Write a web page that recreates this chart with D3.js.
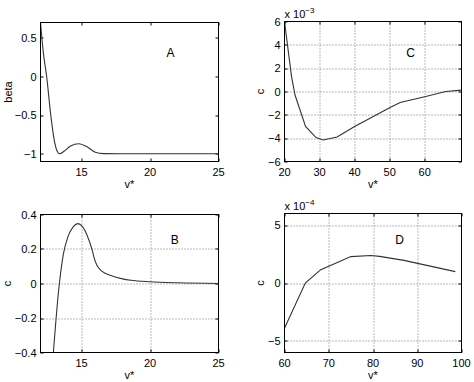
<!DOCTYPE html>
<html>
<head>
<meta charset="utf-8">
<script src="https://cdn.jsdelivr.net/npm/d3@7"></script>
<style>
  body { margin: 0; background: #fff; }
  text { font-family: "Liberation Sans", Arial, sans-serif; fill: #000; }
</style>
</head>
<body>
<div id="chart"></div>
<script>
// Panel A: beta vs v*
var aX = [12.0, 12.2, 12.45, 12.75, 13.0, 13.2, 13.4, 13.7, 14.2, 14.8, 15.4, 16.0, 16.6, 18, 25];
var aY = [0.70, 0.32, 0.0, -0.5, -0.82, -0.96, -1.0, -0.97, -0.90, -0.87, -0.91, -0.98, -0.998, -1.0, -1.0];

// Panel B: c vs v*
var bX = [12.9, 13.1, 13.25, 13.38, 13.67, 14.0, 14.4, 14.72, 15.0, 15.4, 15.75, 15.95, 16.12, 16.5, 17.1, 18.0, 18.6, 20, 22, 25];
var bY = [-0.44, -0.24, -0.1, 0.0, 0.17, 0.27, 0.33, 0.347, 0.335, 0.28, 0.2, 0.14, 0.106, 0.07, 0.048, 0.027, 0.019, 0.01, 0.004, 0.0];

// Panel C: c (x 10^-3) vs v*
var cX = [20, 22, 23, 26, 29, 31, 35, 40, 50, 53, 60, 66, 70.5];
var cY = [6, 1.3, -0.3, -3.0, -3.95, -4.15, -3.9, -3.0, -1.4, -0.95, -0.45, 0.0, 0.12];

// Panel D: c (x 10^-4) vs v*
var dX = [60, 64.7, 68.2, 75, 79.5, 81.5, 87, 98.6];
var dY = [-3.9, 0.0, 1.15, 2.28, 2.37, 2.3, 1.95, 0.98];

// tick values
var aXTicks = [15, 20, 25], aYTicks = [-1, -0.5, 0, 0.5];
var bXTicks = [15, 20, 25], bYTicks = [-0.4, -0.2, 0, 0.2, 0.4];
var cXTicks = [20, 30, 40, 50, 60], cYTicks = [-6, -4, -2, 0, 2, 4, 6];
var dXTicks = [60, 70, 80, 90, 100], dYTicks = [-5, 0, 5];

var svg = d3.select("#chart").append("svg")
    .attr("width", 474)
    .attr("height", 382);

function fmt(v) {
    var s = String(v);
    return s.replace("-", "\u2212");
}

function drawPanel(p) {
    var w = p.right - p.left, h = p.bottom - p.top;
    var g = svg.append("g").attr("transform", "translate(" + p.left + "," + p.top + ")");

    var x = d3.scaleLinear().domain(p.xDomain).range([0, w]);
    var y = d3.scaleLinear().domain(p.yDomain).range([h, 0]);

    var clipId = "clip" + p.name;
    g.append("clipPath").attr("id", clipId)
        .append("rect").attr("width", w).attr("height", h);

    // grid
    if (p.grid) {
        g.selectAll(".gx").data(p.xTicks.filter(function(t) { return x(t) > 1 && x(t) < w - 1; }))
            .enter().append("line")
            .attr("x1", function(d) { return Math.round(x(d)) + 0.5; })
            .attr("x2", function(d) { return Math.round(x(d)) + 0.5; })
            .attr("y1", 0).attr("y2", h)
            .attr("stroke", "#777").attr("stroke-width", 1).attr("stroke-dasharray", "1,2");
        g.selectAll(".gy").data(p.yTicks.filter(function(t) { return y(t) > 1 && y(t) < h - 1; }))
            .enter().append("line")
            .attr("y1", function(d) { return Math.round(y(d)) + 0.5; })
            .attr("y2", function(d) { return Math.round(y(d)) + 0.5; })
            .attr("x1", 0).attr("x2", w)
            .attr("stroke", "#777").attr("stroke-width", 1).attr("stroke-dasharray", "1,2");
    }

    // inward ticks on all four sides
    var tk = 3;
    p.xTicks.forEach(function(t) {
        var xx = Math.round(x(t)) + 0.5;
        g.append("line").attr("x1", xx).attr("x2", xx).attr("y1", h).attr("y2", h - tk).attr("stroke", "#000");
        g.append("line").attr("x1", xx).attr("x2", xx).attr("y1", 0).attr("y2", tk).attr("stroke", "#000");
        g.append("text").attr("x", x(t)).attr("y", h + 14)
            .attr("text-anchor", "middle").attr("font-size", 11).text(fmt(t));
    });
    p.yTicks.forEach(function(t) {
        var yy = Math.round(y(t)) + 0.5;
        g.append("line").attr("x1", 0).attr("x2", tk).attr("y1", yy).attr("y2", yy).attr("stroke", "#000");
        g.append("line").attr("x1", w).attr("x2", w - tk).attr("y1", yy).attr("y2", yy).attr("stroke", "#000");
        g.append("text").attr("x", -4).attr("y", y(t) + 4)
            .attr("text-anchor", "end").attr("font-size", 11).text(fmt(t));
    });

    // curve
    var line = d3.line()
        .x(function(d) { return x(d[0]); })
        .y(function(d) { return y(d[1]); })
        .curve(p.smooth ? d3.curveMonotoneX : d3.curveLinear);
    g.append("path")
        .datum(d3.zip(p.xs, p.ys))
        .attr("clip-path", "url(#" + clipId + ")")
        .attr("d", line)
        .attr("fill", "none")
        .attr("stroke", "#333")
        .attr("stroke-width", 1.1);

    // box
    g.append("rect").attr("width", w).attr("height", h)
        .attr("fill", "none").attr("stroke", "#000").attr("stroke-width", 1);

    // panel letter
    g.append("text").attr("x", x(p.letterAt[0])).attr("y", y(p.letterAt[1]) + 5)
        .attr("text-anchor", "middle").attr("font-size", 12).text(p.name);

    // axis labels
    g.append("text").attr("x", w / 2).attr("y", h + 26.5)
        .attr("text-anchor", "middle").attr("font-size", 11).text("v*");
    g.append("text")
        .attr("transform", "translate(" + p.yLabelX + "," + (h / 2) + ") rotate(-90)")
        .attr("text-anchor", "middle").attr("font-size", 11).text(p.yLabel);

    // exponent label
    if (p.exponent) {
        var t = g.append("text").attr("x", 0).attr("y", -4).attr("font-size", 11);
        t.append("tspan").text("x 10");
        t.append("tspan").attr("dy", -5).attr("font-size", 8).text(fmt(p.exponent));
    }
}

drawPanel({name: "A", left: 40.5, right: 218.5, top: 22.5, bottom: 161.5,
    xDomain: [12, 25], yDomain: [-1.1, 0.7], xTicks: aXTicks, yTicks: aYTicks,
    xs: aX, ys: aY, smooth: true, grid: false, letterAt: [21.5, 0.32], yLabel: "beta", yLabelX: -29});

drawPanel({name: "B", left: 40.5, right: 218.5, top: 214.5, bottom: 352.5,
    xDomain: [12, 25], yDomain: [-0.4, 0.4], xTicks: bXTicks, yTicks: bYTicks,
    xs: bX, ys: bY, smooth: true, grid: true, letterAt: [21.8, 0.26], yLabel: "c", yLabelX: -30});

drawPanel({name: "C", left: 284.5, right: 461.5, top: 21.5, bottom: 161.5,
    xDomain: [20, 70.5], yDomain: [-6, 6], xTicks: cXTicks, yTicks: cYTicks,
    xs: cX, ys: cY, smooth: false, grid: true, letterAt: [56, 3.4], yLabel: "c", yLabelX: -21, exponent: -3});

drawPanel({name: "D", left: 284.5, right: 461.5, top: 213.5, bottom: 352.5,
    xDomain: [60, 100], yDomain: [-6, 6], xTicks: dXTicks, yTicks: dYTicks,
    xs: dX, ys: dY, smooth: false, grid: true, letterAt: [86, 3.8], yLabel: "c", yLabelX: -21, exponent: -4});
</script>
</body>
</html>
